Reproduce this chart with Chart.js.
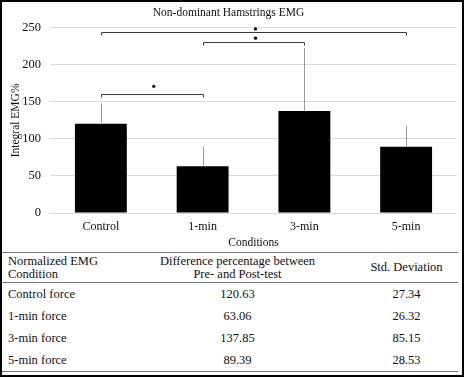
<!DOCTYPE html>
<html lang="en">

<head>
    <meta charset="UTF-8">
    <script src="https://cdn.jsdelivr.net/npm/chart.js"></script>
    <title>Non-dominant Hamstrings EMG</title>
    <style>
        body { margin: 0; background: #fff; }
        .pagina { position: relative; width: 464px; height: 377px; overflow: hidden; font-family: 'Liberation Serif', 'Times New Roman', serif; color: #111; }
        .moldura { position: absolute; left: 0; top: 0; width: 464px; height: 377px; box-sizing: border-box; border: 2px solid #000; pointer-events: none; }
        .grafico { position: absolute; left: 0; top: 0; width: 464px; height: 250px; }
        .tabela { position: absolute; left: 2px; top: 252px; width: 456px; border-top: 1px solid #777; border-bottom: 1px solid #777; font-size: 12.5px; }
        .linha { position: relative; height: 22px; }
        .linha.cab { height: 29px; border-bottom: 1px solid #777; }
        .linha div { position: absolute; top: 0; height: 100%; display: flex; align-items: center; line-height: 13px; }
        .c1 { left: 6px; width: 130px; }
        .c2 { left: 138px; width: 195px; justify-content: center; text-align: center; }
        .c3 { left: 353px; width: 103px; justify-content: center; text-align: center; }
    </style>
</head>

<body>
    <div class="pagina">
        <div class="grafico">
            <canvas id="myChartCanvas"></canvas>
        </div>
        <div class="tabela" id="tabela"></div>
        <div class="moldura"></div>
    </div>

    <script>
        // dados
        const categorias = ['Control', '1-min', '3-min', '5-min'];
        const medias = [120.63, 63.06, 137.85, 89.39];
        const desvios = [27.34, 26.32, 85.15, 28.53];

        // colchetes de significancia (indices das categorias e altura em EMG%)
        const colcheteDe = [0, 1, 0];
        const colcheteAte = [1, 2, 3];
        const colcheteNivel = [160, 231, 244];
        const marcaNivel = [171, 236, 248.5];

        const linhasTabela = ['Control force', '1-min force', '3-min force', '5-min force'];
        const cabecalho = ['Normalized EMG<br>Condition', 'Difference percentage between<br>Pre- and Post-test', 'Std. Deviation'];

        const fonte = "'Liberation Serif', 'Times New Roman', serif";
        Chart.defaults.font.family = fonte;

        // barras de erro (so para cima)
        const barrasErro = {
            id: 'barrasErro',
            afterDatasetsDraw(chart) {
                const ctx = chart.ctx;
                const x = chart.scales.x;
                const y = chart.scales.y;
                ctx.save();
                ctx.strokeStyle = '#9a9a9a';
                ctx.lineWidth = 1;
                for (let i = 0; i < medias.length; i++) {
                    const px = Math.round(x.getPixelForValue(i)) + 0.5;
                    ctx.beginPath();
                    ctx.moveTo(px, y.getPixelForValue(medias[i]));
                    ctx.lineTo(px, y.getPixelForValue(medias[i] + desvios[i]));
                    ctx.stroke();
                }
                ctx.restore();
            }
        };

        const colchetes = {
            id: 'colchetes',
            afterDatasetsDraw(chart) {
                const ctx = chart.ctx;
                const x = chart.scales.x;
                const y = chart.scales.y;
                ctx.save();
                ctx.strokeStyle = '#3a3a3a';
                ctx.fillStyle = '#000';
                ctx.lineWidth = 1;
                for (let i = 0; i < colcheteDe.length; i++) {
                    const x1 = Math.round(x.getPixelForValue(colcheteDe[i])) + 0.5;
                    const x2 = Math.round(x.getPixelForValue(colcheteAte[i])) + 0.5;
                    const py = Math.round(y.getPixelForValue(colcheteNivel[i])) + 0.5;
                    ctx.beginPath();
                    ctx.moveTo(x1, py + 3);
                    ctx.lineTo(x1, py);
                    ctx.lineTo(x2, py);
                    ctx.lineTo(x2, py + 3);
                    ctx.stroke();

                    const mx = (x.getPixelForValue(colcheteDe[i]) + x.getPixelForValue(colcheteAte[i])) / 2 + 2;
                    ctx.beginPath();
                    ctx.arc(mx, y.getPixelForValue(marcaNivel[i]), 1.6, 0, Math.PI * 2);
                    ctx.fill();
                }
                ctx.restore();
            }
        };

        function montarTabela() {
            const tabela = document.getElementById('tabela');
            let html = '<div class="linha cab"><div class="c1">' + cabecalho[0] + '</div><div class="c2">' + cabecalho[1] + '</div><div class="c3">' + cabecalho[2] + '</div></div>';
            for (let i = 0; i < linhasTabela.length; i++) {
                html += '<div class="linha"><div class="c1">' + linhasTabela[i] + '</div><div class="c2">' + medias[i].toFixed(2) + '</div><div class="c3">' + desvios[i].toFixed(2) + '</div></div>';
            }
            tabela.innerHTML = html;
        }

        function plotarGrafico() {
            const ctx = document.getElementById('myChartCanvas');
            const config = {
                type: 'bar',
                data: {
                    labels: categorias,
                    datasets: [{
                        label: 'Integral EMG%',
                        data: medias,
                        backgroundColor: '#000',
                        borderWidth: 0,
                        barPercentage: 0.51,
                        categoryPercentage: 1
                    }]
                },
                options: {
                    responsive: true,
                    maintainAspectRatio: false,
                    animation: false,
                    layout: { padding: { left: 0, right: 7, top: 0, bottom: 0 } },
                    scales: {
                        x: {
                            afterFit: (scale) => { scale.height = 37; },
                            grid: { display: false, drawTicks: false },
                            border: { display: false },
                            ticks: { color: '#111', padding: 7, font: { family: fonte, size: 12 } },
                            title: { display: true, text: 'Conditions', color: '#111', padding: { top: 2, bottom: 0 }, font: { family: fonte, size: 11.5 } }
                        },
                        y: {
                            min: 0,
                            max: 250,
                            afterFit: (scale) => { scale.width = 50; },
                            grid: { color: '#d9d9d9', drawTicks: false },
                            border: { display: false },
                            ticks: { stepSize: 50, color: '#111', padding: 9, font: { family: fonte, size: 12.5 } },
                            title: { display: true, text: 'Integral EMG%', color: '#111', padding: { top: 8.8, bottom: 0 }, font: { family: fonte, size: 11.5 } }
                        }
                    },
                    plugins: {
                        legend: { display: false },
                        tooltip: { enabled: false },
                        title: {
                            display: true,
                            text: 'Non-dominant Hamstrings EMG',
                            color: '#111',
                            padding: { top: 6, bottom: 8 },
                            font: { family: fonte, size: 11.5, weight: 'normal' }
                        }
                    }
                },
                plugins: [barrasErro, colchetes]
            };

            new Chart(ctx, config);
        }

        montarTabela();
        plotarGrafico();
    </script>
</body>

</html>
